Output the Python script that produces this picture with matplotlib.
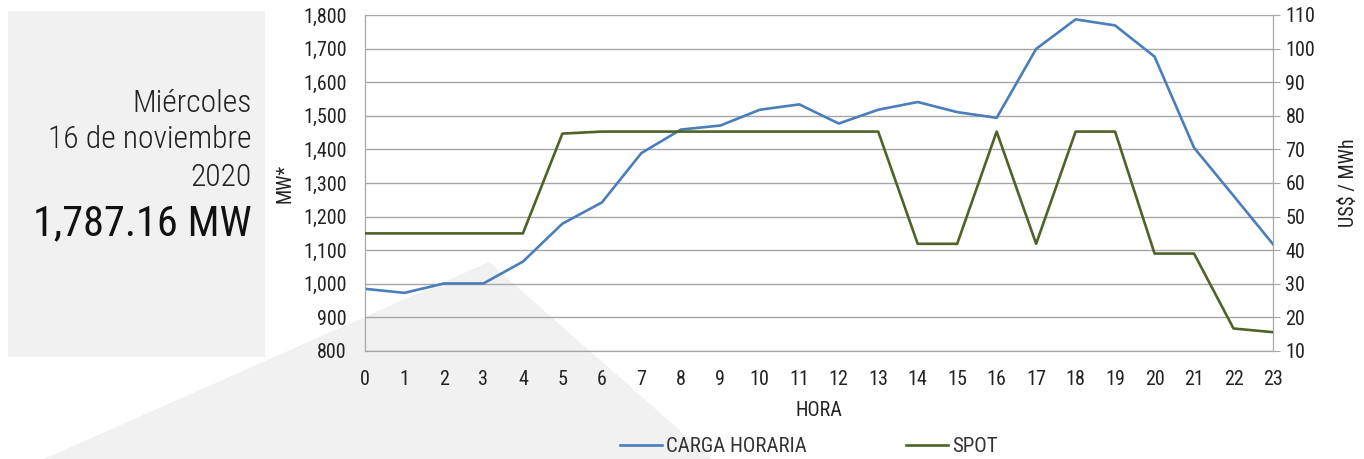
import matplotlib.pyplot as plt
from matplotlib.patches import Polygon, Rectangle
from matplotlib.lines import Line2D

plt.rcParams['font.family'] = ['Roboto Condensed', 'Roboto', 'DejaVu Sans']

# ====== data ======
horas = list(range(24))
carga_horaria = [985, 973, 1001, 1001, 1066, 1179, 1242, 1389, 1459, 1471, 1518, 1534,
                 1477, 1518, 1541, 1511, 1494, 1699, 1787, 1769, 1676, 1405, 1262, 1118]
spot = [45, 45, 45, 45, 45, 74.7, 75.3, 75.3, 75.3, 75.3, 75.3, 75.3,
        75.3, 75.3, 41.9, 41.9, 75.3, 41.9, 75.3, 75.3, 39, 39, 16.7, 15.6]
mw_ticks = list(range(800, 1801, 100))
usd_ticks = list(range(10, 111, 10))

BLUE = '#4a7ebb'
GREEN = '#4f6228'
GRID = '#a6a6a6'
BG = '#f0f1f0'
TXT = '#222222'

W, H = 1364, 459
fig = plt.figure(figsize=(W / 100, H / 100), dpi=100)

# --- background shapes (figure coords) ---
fig.patches.append(Rectangle((8 / W, 1 - 357 / H), (265 - 8) / W, (357 - 11) / H,
                             transform=fig.transFigure, facecolor=BG, edgecolor='none', zorder=-2))
tri = [(44 / W, 0), (489 / W, 1 - 262 / H), (712 / W, 0)]
fig.patches.append(Polygon(tri, closed=True, transform=fig.transFigure,
                           facecolor=BG, edgecolor='none', zorder=-2))

# --- left text block ---
for txt, yy in [('Miércoles', 103), ('16 de noviembre', 140), ('2020', 178)]:
    fig.text(252 / W, 1 - yy / H, txt, ha='right', va='center', fontsize=22.8,
             fontweight='light', color='#222222')
fig.text(252 / W, 1 - 224 / H, '1,787.16 MW', ha='right', va='center', fontsize=30.4,
         color='#111111')

# --- axes ---
ax = fig.add_axes([365 / W, 1 - 351 / H, (1273 - 365) / W, (351 - 15) / H])
ax.patch.set_visible(False)
ax.set_zorder(2)
ax2 = ax.twinx()
ax2.set_zorder(3)
ax2.patch.set_visible(False)

ax.plot(horas, carga_horaria, color=BLUE, lw=1.9, zorder=4, label='CARGA HORARIA')
ax2.plot(horas, spot, color=GREEN, lw=1.9, zorder=4, label='SPOT')

ax.set_xlim(0, 23)
ax.set_ylim(800, 1800)
ax2.set_ylim(10, 110)
ax.set_xticks(horas)
ax.set_yticks(mw_ticks)
ax.set_yticklabels([f'{v:,}' for v in mw_ticks])
ax2.set_yticks(usd_ticks)

ax.grid(axis='y', color=GRID, lw=1)
ax.set_axisbelow(True)

for a in (ax, ax2):
    for s in a.spines.values():
        s.set_color(GRID)
    a.spines['top'].set_visible(False)
ax.tick_params(axis='both', length=0, labelsize=14.5, colors=TXT)
ax.tick_params(axis='x', pad=14)
ax.tick_params(axis='y', pad=13)
ax2.tick_params(axis='y', length=5, color=GRID, labelsize=14.5, labelcolor=TXT, pad=4)

ax.set_xlabel('HORA', fontsize=14.5, color=TXT, labelpad=8)
ax.set_ylabel('MW*', fontsize=14.5, color=TXT)
ax.yaxis.set_label_coords(-0.078, 0.5)
ax2.set_ylabel('US$ / MWh', fontsize=14.5, color=TXT)
ax2.yaxis.set_label_coords(1.073, 0.5)

handles = [Line2D([], [], color=BLUE, lw=1.9), Line2D([], [], color=GREEN, lw=1.9)]
fig.legend(handles, ['CARGA HORARIA', 'SPOT'], loc='center left', bbox_to_anchor=(610 / W, 1 - 447 / H),
           ncol=2, frameon=False, fontsize=15, handlelength=2.0, handletextpad=0.2,
           columnspacing=4.75, labelcolor='#333333', borderpad=0)

plt.savefig('out.png', dpi=100)
